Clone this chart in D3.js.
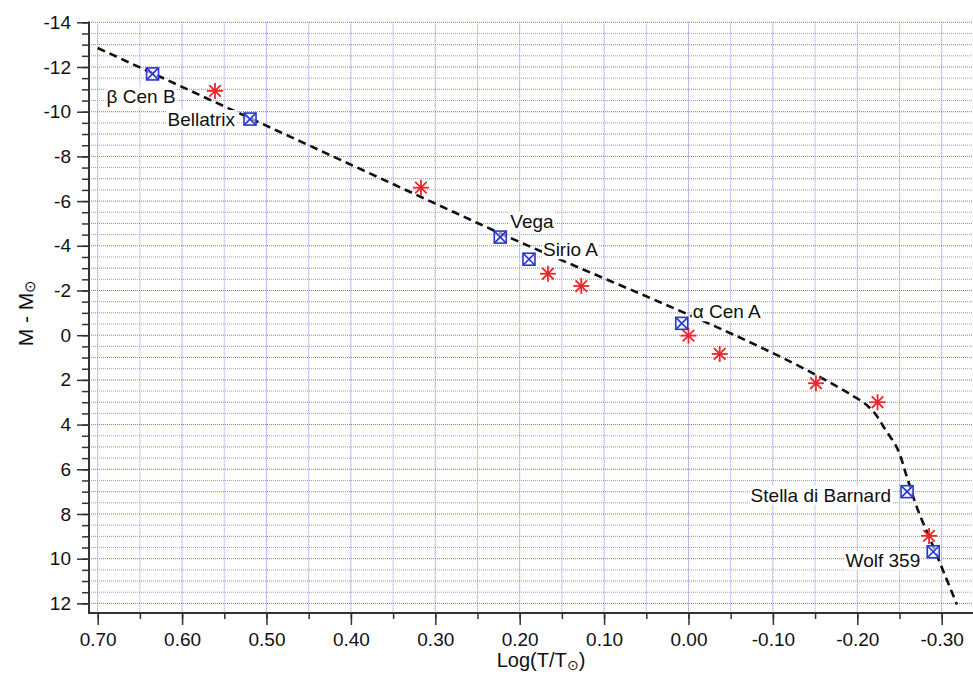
<!DOCTYPE html>
<html>
<head>
<meta charset="utf-8">
<script src="https://cdn.jsdelivr.net/npm/d3@7"></script>
<style>
  html, body { margin: 0; padding: 0; background: #fff; }
  svg { display: block; font-family: "Liberation Sans", Arial, Helvetica, sans-serif; }
</style>
</head>
<body>
<svg id="chart" width="973" height="677"></svg>
<script>
// ---------------- DATA ----------------
// Red asterisks (unnamed stars): log(T/Tsun), M - Msun
const starX = [0.561, 0.317, 0.1665, 0.127, 0.000, -0.037, -0.151, -0.224, -0.285];
const starY = [-10.93, -6.6, -2.75, -2.2, 0.02, 0.84, 2.15, 3.0, 8.98];

// Named stars (blue squares)
const namedNames = ["β Cen B", "Bellatrix", "Vega", "Sirio A", "α Cen A", "Stella di Barnard", "Wolf 359"];
const namedX = [0.635, 0.5195, 0.223, 0.189, 0.008, -0.259, -0.290];
const namedY = [-11.69, -9.67, -4.39, -3.4, -0.53, 7.0, 9.69];

// Main-sequence dashed curve
const lineX = [0.70, 0.25, -0.195, -0.207, -0.219, -0.232, -0.2464, -0.2587, -0.2703, -0.290, -0.318];
const lineY = [-12.85, -5.02, 2.72, 3.0, 3.42, 4.15, 5.0, 6.33, 7.67, 9.46, 12.05];

// Tick labels
const xTicks = [0.70, 0.60, 0.50, 0.40, 0.30, 0.20, 0.10, 0.00, -0.10, -0.20, -0.30];
const yTicks = [-14, -12, -10, -8, -6, -4, -2, 0, 2, 4, 6, 8, 10, 12];

// ---------------- LAYOUT ----------------
const L = { left: 89, right: 973, top: 22.3, bottom: 613 };
// label placement relative to its marker: [dx, dy(baseline), anchor]
const labelLayout = [
  [-46, 29, "start"], [-15, 7, "end"], [10, -9, "start"], [14, -3, "start"],
  [11, -5, "start"], [-16, 10, "end"], [-13, 15.5, "end"]
];

const svg = d3.select("#chart");
const x = d3.scaleLinear().domain([0.7103, -0.3371]).range([L.left, L.right]);
const y = d3.scaleLinear().domain([-14, 12.43]).range([L.top, L.bottom]);

// ---------------- GRID ----------------
const grid = svg.append("g");
const xMinor = d3.range(-6, 15).map(i => +(i * 0.05).toFixed(2)).filter(v => x(v) >= L.left && x(v) <= L.right);
const yMinor = d3.range(-28, 25).map(i => i * 0.5);

grid.selectAll("line.gx").data(xMinor).join("line")
  .attr("x1", d => x(d)).attr("x2", d => x(d))
  .attr("y1", L.top).attr("y2", L.bottom)
  .attr("stroke", d => (Math.round(d * 100) % 10 === 0) ? "#7878d0" : "#9090da")
  .attr("stroke-width", 1)
  .attr("stroke-dasharray", "1,1");

grid.selectAll("line.gy").data(yMinor).join("line")
  .attr("x1", L.left).attr("x2", L.right)
  .attr("y1", d => y(d)).attr("y2", d => y(d))
  .attr("stroke", d => (d % 2 === 0) ? "#7878d0" : (d % 1 === 0 ? "#8585d5" : "#9a9adc"))
  .attr("stroke-width", 1)
  .attr("stroke-dasharray", "1,1");

// ---------------- AXES ----------------
const axisColor = "#333";
const xAxis = svg.append("g").attr("transform", `translate(0,${L.bottom})`);
xAxis.call(d3.axisBottom(x).tickValues(xMinor).tickSize(6).tickFormat(""));
xAxis.call(g => g.selectAll(".tick line").attr("stroke", axisColor).attr("stroke-width", 1.5));
const xAxisMajor = svg.append("g").attr("transform", `translate(0,${L.bottom})`);
xAxisMajor.call(d3.axisBottom(x).tickValues(xTicks).tickSize(12).tickPadding(8).tickFormat(d3.format(".2f")));
xAxisMajor.call(g => {
  g.select(".domain").remove();
  g.selectAll(".tick line").attr("stroke", axisColor).attr("stroke-width", 1.5);
  g.selectAll(".tick text").attr("font-size", 19).attr("fill", "#111")
    .attr("font-family", "Liberation Sans, Arial, sans-serif")
    .text(d => d3.format(".2f")(d).replace("−", "-"));
});
xAxis.select(".domain").remove();

const yAxis = svg.append("g").attr("transform", `translate(${L.left},0)`);
yAxis.call(d3.axisLeft(y).tickValues(yMinor.filter(v => y(v) >= L.top - 0.5)).tickSize(7).tickFormat(""));
yAxis.call(g => { g.select(".domain").remove(); g.selectAll(".tick line").attr("stroke", axisColor).attr("stroke-width", 1.5); });
const yAxisMajor = svg.append("g").attr("transform", `translate(${L.left},0)`);
yAxisMajor.call(d3.axisLeft(y).tickValues(yTicks).tickSize(12).tickPadding(6).tickFormat(d => String(d)));
yAxisMajor.call(g => {
  g.select(".domain").remove();
  g.selectAll(".tick line").attr("stroke", axisColor).attr("stroke-width", 1.5);
  g.selectAll(".tick text").attr("font-size", 19).attr("fill", "#111")
    .attr("font-family", "Liberation Sans, Arial, sans-serif");
});

svg.append("line").attr("x1", L.left).attr("x2", L.right).attr("y1", L.bottom).attr("y2", L.bottom)
  .attr("stroke", axisColor).attr("stroke-width", 2);
svg.append("line").attr("x1", L.left).attr("x2", L.left).attr("y1", L.top - 0.7).attr("y2", L.bottom + 1)
  .attr("stroke", axisColor).attr("stroke-width", 2);

// ---------------- AXIS TITLES ----------------
const xt = svg.append("text").attr("x", 541).attr("y", 667).attr("text-anchor", "middle")
  .attr("font-size", 20).attr("fill", "#111");
xt.append("tspan").text("Log(T/T");
xt.append("tspan").text("⊙").attr("font-size", 14).attr("dy", 3);
xt.append("tspan").text(")").attr("dy", -3);

const yt = svg.append("text").attr("transform", "translate(33,313) rotate(-90)").attr("text-anchor", "middle")
  .attr("font-size", 21).attr("fill", "#111");
yt.append("tspan").text("M - M");
yt.append("tspan").text("⊙").attr("font-size", 15).attr("dy", 2);

// ---------------- CURVE ----------------
const pts = lineX.map((v, i) => [v, lineY[i]]);
svg.append("path")
  .attr("d", d3.line().x(d => x(d[0])).y(d => y(d[1])).curve(d3.curveMonotoneY)(pts))
  .attr("fill", "none").attr("stroke", "#111").attr("stroke-width", 2.6)
  .attr("stroke-dasharray", "8,5");

// ---------------- STARS (asterisks) ----------------
const stars = starX.map((v, i) => [v, starY[i]]);
const r = 8, rd = r * 0.72;
const sg = svg.append("g").selectAll("g").data(stars).join("g")
  .attr("transform", d => `translate(${x(d[0])},${y(d[1])})`)
  .attr("stroke", "#e8262b").attr("stroke-width", 1.8);
sg.append("line").attr("x1", -r).attr("x2", r).attr("y1", 0).attr("y2", 0);
sg.append("line").attr("x1", 0).attr("x2", 0).attr("y1", -r).attr("y2", r);
sg.append("line").attr("x1", -rd).attr("x2", rd).attr("y1", -rd).attr("y2", rd);
sg.append("line").attr("x1", -rd).attr("x2", rd).attr("y1", rd).attr("y2", -rd);

// ---------------- NAMED STARS ----------------
const named = namedX.map((v, i) => ({ x: v, y: namedY[i], name: namedNames[i], lay: labelLayout[i] }));
const s = 6;
const lg = svg.append("g");
named.forEach(d => {
  const cx = x(d.x), cy = y(d.y);
  const t = lg.append("text").attr("x", cx + d.lay[0]).attr("y", cy + d.lay[1])
    .attr("text-anchor", d.lay[2]).attr("font-size", 19).attr("fill", "#111").text(d.name);
  const bb = t.node().getBBox();
  lg.insert("rect", () => t.node())
    .attr("x", bb.x - 1).attr("y", bb.y + 1).attr("width", bb.width + 2).attr("height", bb.height - 2)
    .attr("fill", "#fff");
});
const mg = svg.append("g").selectAll("g").data(named).join("g")
  .attr("transform", d => `translate(${x(d.x)},${y(d.y)})`)
  .attr("stroke", "#2a37c9").attr("stroke-width", 1.6).attr("fill", "none");
mg.append("rect").attr("x", -s).attr("y", -s).attr("width", 2 * s).attr("height", 2 * s).attr("fill", "rgba(235,238,255,0.6)");
mg.append("line").attr("x1", -s).attr("x2", s).attr("y1", -s).attr("y2", s);
mg.append("line").attr("x1", -s).attr("x2", s).attr("y1", s).attr("y2", -s);
</script>
</body>
</html>
